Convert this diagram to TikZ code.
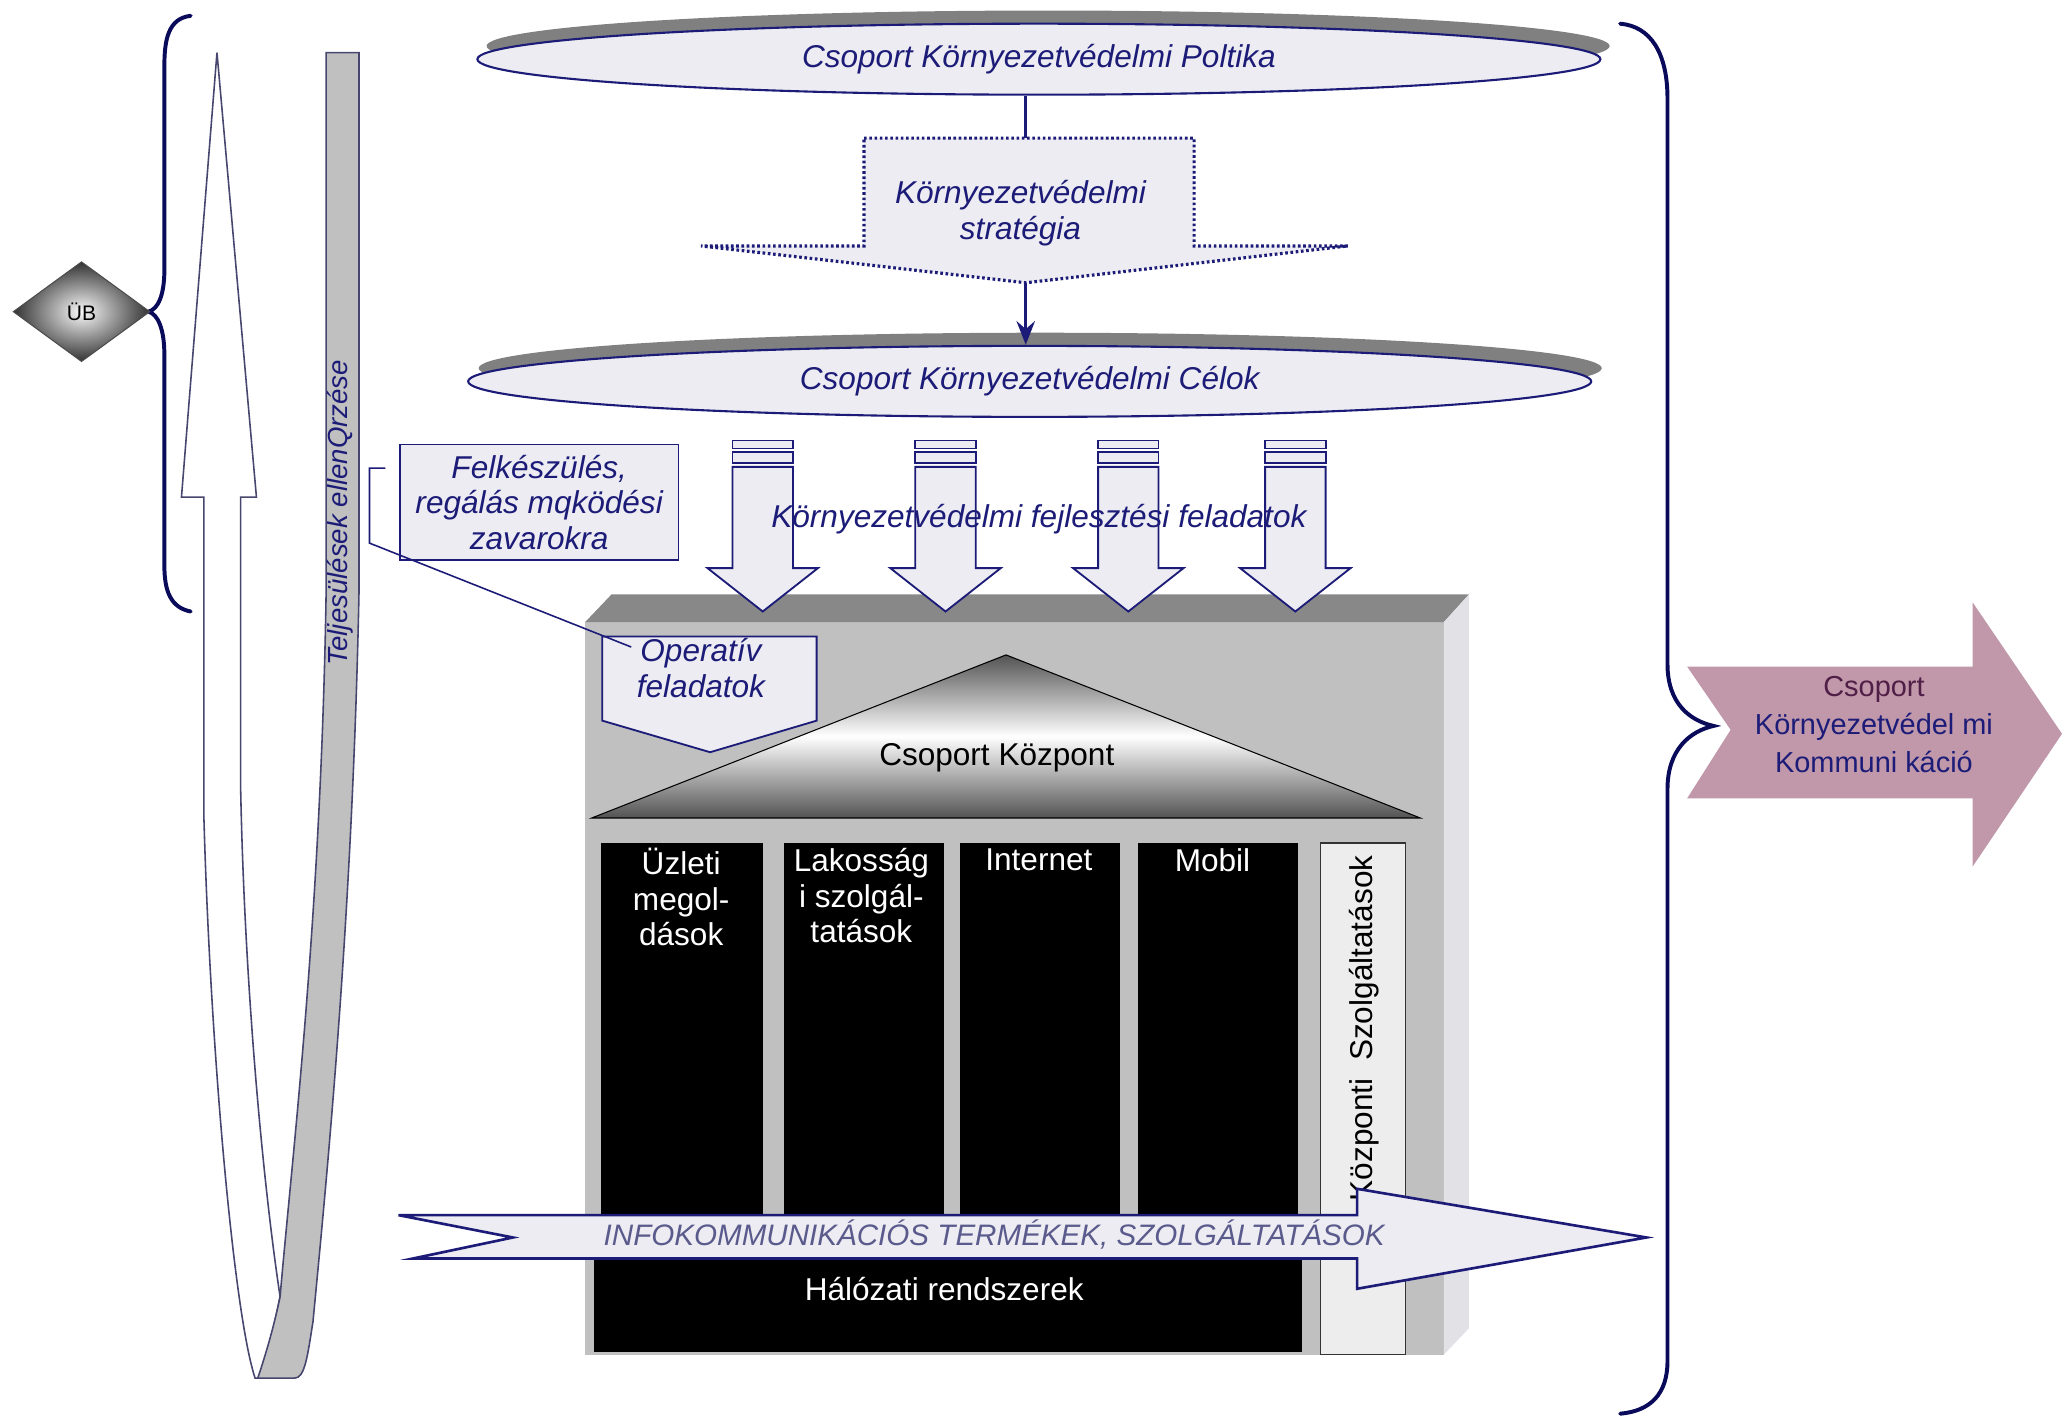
\documentclass[tikz,border=0pt]{standalone}
\usepackage{fontspec}
\setmainfont{Liberation Sans}
\usetikzlibrary{shapes.geometric,arrows.meta}
\definecolor{navy}{RGB}{28,28,120}
\definecolor{brnavy}{RGB}{10,10,90}
\definecolor{pale}{RGB}{236,236,242}
\definecolor{shadowgray}{RGB}{128,128,128}
\definecolor{frontgray}{RGB}{192,192,192}
\definecolor{topgray}{RGB}{136,136,136}
\definecolor{sidegray}{RGB}{226,226,230}
\definecolor{mauve}{RGB}{192,152,170}
\definecolor{maroonish}{RGB}{80,30,70}
\definecolor{infotext}{RGB}{90,90,140}
\definecolor{edgecol}{RGB}{70,70,110}
\tikzset{
  txt/.style={font=\fontsize{24}{27}\selectfont, align=center, inner sep=0pt},
  itxt/.style={txt, font=\fontsize{24}{27}\selectfont\itshape, text=navy},
  ell/.style={ellipse, draw=navy, line width=1.6pt, fill=pale, minimum width=854pt, minimum height=54pt, inner sep=0pt},
  ellshadow/.style={ellipse, fill=shadowgray, minimum width=854pt, minimum height=54pt, inner sep=0pt},
  blk/.style={draw=navy, line width=1.4pt, fill=pale},
  brace/.style={draw=brnavy, line width=3pt, line cap=round},
  pillartxt/.style={txt, text=white, anchor=north},
}
\begin{document}
\begin{tikzpicture}[x=1pt,y=-1pt]
\useasboundingbox (0,0) rectangle (1568,1080);
\fill[white] (0,0) rectangle (1568,1080);

% ---------- U-turn arrow (left) ----------
\draw[edgecol, line width=1.2pt, fill=white]
  (165,40) -- (195,378) -- (183,378) -- (183,600) .. controls (186,750) and (200,900) .. (213,986)
  -- (200,1048) -- (194,1048) .. controls (178,1000) and (160,800) .. (155,620) -- (155,378) -- (138,378) -- cycle;
\draw[edgecol, line width=1.2pt, fill=frontgray]
  (248,40) -- (273,40) -- (273,450) .. controls (268,700) and (248,900) .. (238,1005)
  .. controls (234,1030) and (232,1048) .. (224,1048)
  -- (196,1048) .. controls (202,1030) and (208,1010) .. (213,986)
  .. controls (222,880) and (244,700) .. (248,450) -- cycle;
\node[rotate=90, txt, font=\fontsize{21}{24}\selectfont\itshape, text=navy] (tel) at (259,390) {Teljesülések ellenQrzése};

% ---------- left brace + ÜB ----------
\draw[brace] (145,12) .. controls (128,14) and (125,30) .. (125,50) -- (125,205)
  .. controls (125,225) and (120,235) .. (113,237)
  .. controls (120,239) and (125,250) .. (125,270) -- (125,430)
  .. controls (125,450) and (130,462) .. (145,465);
\node[diamond, aspect=1.37, minimum width=104pt, minimum height=76pt, inner sep=0pt,
      draw=black!70, line width=0.8pt, inner color=gray!5, outer color=gray!40!black,
      font=\fontsize{16}{18}\selectfont] (ub) at (62,237) {ÜB};

% ---------- top ellipse ----------
\node[ellshadow] (polsh) at (797,35) {};
\node[ell, font=\fontsize{24}{27}\selectfont\itshape, text=navy] (pol) at (790,45) {Csoport Környezetvédelmi Poltika};

% ---------- strategy ----------
\draw[navy, line width=2.4pt, dash pattern=on 2pt off 2pt, fill=pale]
  (657,105) -- (908,105) -- (908,187) -- (1025,187) -- (780,215) -- (533,187) -- (657,187) -- cycle;
\coordinate (stratTop) at (780,105);
\coordinate (stratTip) at (780,215);
\node[itxt] (strat) at (776,162) {Környezetvédelmi\\stratégia};

% ---------- second ellipse ----------
\node[ellshadow] (celsh) at (791,280) {};
\node[ell, font=\fontsize{24}{27}\selectfont\itshape, text=navy] (cel) at (783,290) {Csoport Környezetvédelmi Célok};

\draw[navy, line width=2pt] (stratTop |- pol.south) -- (stratTop);
\draw[navy, line width=2.4pt, -{Stealth[length=18pt,width=14pt,inset=6pt]}] (stratTip) -- (stratTip |- cel.north);

% ---------- building ----------
\fill[frontgray] (445,473) rectangle (1098,1030);
\fill[topgray] (445,473) -- (465,452) -- (1117,452) -- (1098,473) -- cycle;
\fill[sidegray] (1098,473) -- (1117,452) -- (1117,1010) -- (1098,1030) -- cycle;

% roof
\shade[top color=gray!65!black, bottom color=gray!65!black, middle color=white, draw=black, line width=0.8pt]
  (450,622) -- (765,498) -- (1080,622) -- cycle;
\node[txt] (kozpont) at (758,576) {Csoport Központ};

% pillars
\fill[black] (457,641) rectangle (580,930);
\fill[black] (596,641) rectangle (718,930);
\fill[black] (730,641) rectangle (852,930);
\fill[black] (865,641) rectangle (987,930);
\fill[black] (452,925) rectangle (990,1028);
\node[pillartxt] (uzl) at (518,645) {Üzleti\\megol-\\dások};
\node[pillartxt] (lak) at (655,645) {Lakosság\\i szolgál-\\tatások};
\node[pillartxt] (int) at (790,645) {Internet};
\node[pillartxt] (mob) at (922,645) {Mobil};
\node[txt, text=white] (hal) at (718,980) {Hálózati rendszerek};

\node[draw=black!80, line width=1pt, fill=black!7, minimum width=65pt, minimum height=389pt, inner sep=0pt] (kozpbox) at (1036.5,835.5) {};
\node[txt, rotate=90] (kozptxt) at (1037,782) {Központi\ \ Szolgáltatások};

% ---------- Operatív ----------
\draw[blk] (458,484) -- (621,484) -- (621,548) -- (540,572) -- (458,548) -- cycle;
\node[itxt] (oper) at (533,508) {Operatív\\feladatok};

% ---------- callout ----------
\node[draw=navy, line width=1.4pt, fill=pale, minimum width=212pt, minimum height=88pt, itxt] (felk) at (410,382) {Felkészülés,\\regálás mqködési\\zavarokra};
\coordinate (lstart) at (293,356);
\coordinate (lb1) at (281,356);
\coordinate (lb2) at (281,413);
\coordinate (lend) at (480,492);
\draw[navy, line width=1.2pt] (lstart) -- (lb1) -- (lb2) -- (lend);

% ---------- four block arrows ----------
\foreach \c in {580,719,858,985}{
  \draw[blk] ({\c-23},335) rectangle ({\c+23},341);
  \draw[blk] ({\c-23},344) rectangle ({\c+23},352);
  \draw[blk] ({\c-23},355) -- ({\c+23},355) -- ({\c+23},432) -- ({\c+42},432) -- (\c,465)
     -- ({\c-42},432) -- ({\c-23},432) -- cycle;
}
\node[itxt] (fejl) at (790,395) {Környezetvédelmi fejlesztési feladatok};

% ---------- INFO arrow ----------
\draw[navy, line width=2pt, fill=pale]
  (303,924) -- (1032,924) -- (1032,904) -- (1252,941) -- (1032,980) -- (1032,957)
  -- (314,957) -- (390,941) -- cycle;
\node[txt, font=\fontsize{22.5}{25}\selectfont\itshape, text=infotext] (info) at (756,939) {INFOKOMMUNIKÁCIÓS TERMÉKEK, SZOLGÁLTATÁSOK};

% ---------- right brace ----------
\draw[brace] (1232,18) .. controls (1255,20) and (1268,40) .. (1268,75) -- (1268,505)
  .. controls (1268,535) and (1285,548) .. (1303,552)
  .. controls (1285,556) and (1268,570) .. (1268,600) -- (1268,1035)
  .. controls (1268,1060) and (1255,1073) .. (1232,1075);

% ---------- pink arrow ----------
\fill[mauve] (1283,507) -- (1500,507) -- (1500,458) -- (1568,558) -- (1500,659) -- (1500,607)
  -- (1283,607) -- (1316,555) -- cycle;
\node[txt, font=\fontsize{22}{29}\selectfont] (kom) at (1425,551)
  {\textcolor{maroonish}{Csoport}\\\textcolor{navy}{Környezetvédel mi}\\\textcolor{navy}{Kommuni káció}};
\end{tikzpicture}
\end{document}
